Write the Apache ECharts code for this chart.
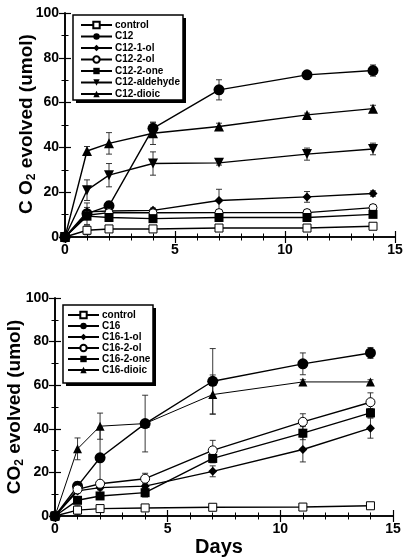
<!DOCTYPE html>
<html><head><meta charset="utf-8">
<script src="https://cdn.jsdelivr.net/npm/echarts@6/dist/echarts.min.js"></script>
<style>html,body{margin:0;padding:0;background:#fff}#c{width:407px;height:558px}</style>
</head><body><div id="c"></div>
<script>
const days = [0, 1, 2, 4, 7, 11, 14];
const xTicks = [0, 5, 10, 15];
const yTicks = [0, 20, 40, 60, 80, 100];

// Top panel (C12)
const topNames = ['control', 'C12', 'C12-1-ol', 'C12-2-ol', 'C12-2-one', 'C12-aldehyde', 'C12-dioic'];
const topControl = [0, 3.0, 3.6, 3.6, 4.0, 4.0, 4.8];
const topControlErr = [0, 2, 0.8, 0.8, 1, 1, 1.2];
const topC12 = [0, 10.4, 13.9, 48.5, 65.7, 72.4, 74.3];
const topC12Err = [0, 4.8, 2, 2.5, 4.5, 1, 2.5];
const topC12_1ol = [0, 11.2, 11.6, 11.9, 16.3, 17.9, 19.4];
const topC12_1olErr = [0, 2, 1, 1, 5, 2.4, 1.2];
const topC12_2ol = [0, 9.7, 10.9, 10.8, 10.9, 10.9, 13.1];
const topC12_2olErr = [0, 1, 1, 1, 1, 1, 1];
const topC12_2one = [0, 9.3, 8.7, 8.2, 8.7, 8.7, 10.1];
const topC12_2oneErr = [0, 1, 0.5, 0.5, 0.5, 0.5, 0.5];
const topC12ald = [0, 20.9, 27.6, 32.8, 33.1, 37.0, 39.3];
const topC12aldErr = [0, 4.6, 5.2, 5.2, 1, 2.7, 2.6];
const topC12dioic = [0, 38.4, 41.8, 46.3, 49.3, 54.5, 57.3];
const topC12dioicErr = [0, 2, 4.8, 5, 1.5, 0.8, 1.5];

// Bottom panel (C16)
const botNames = ['control', 'C16', 'C16-1-ol', 'C16-2-ol', 'C16-2-one', 'C16-dioic'];
const botControl = [0, 2.7, 3.4, 3.7, 4.0, 4.1, 4.7];
const botControlErr = [0, 2, 1, 1, 1.2, 1.5, 1];
const botC16 = [0, 13.7, 26.7, 42.4, 61.8, 69.8, 74.8];
const botC16Err = [0, 2, 14, 13, 15, 5, 2.5];
const botC16_1ol = [0, 11.5, 13.0, 13.7, 20.5, 30.5, 40.3];
const botC16_1olErr = [0, 1, 1, 1, 2.5, 5.7, 4.6];
const botC16_2ol = [0, 12.2, 14.8, 17.1, 30.1, 43.2, 52.2];
const botC16_2olErr = [0, 1, 1, 2.5, 4.6, 3.7, 4.3];
const botC16_2one = [0, 7.2, 9.2, 10.7, 26.4, 38.0, 47.3];
const botC16_2oneErr = [0, 1, 1, 2, 2, 3, 2];
const botC16dioic = [0, 30.8, 41.2, 42.4, 55.7, 61.5, 61.5];
const botC16dioicErr = [0, 5, 6, 1, 9, 1, 1];

const FONT = '"Liberation Sans", Arial, Helvetica, sans-serif';
const topStyles = [
  {symbol: 'rect', size: 8, open: true},
  {symbol: 'circle', size: 11},
  {symbol: 'diamond', size: 9},
  {symbol: 'circle', size: 8, open: true},
  {symbol: 'rect', size: 9},
  {symbol: 'triangle', size: 10, rotate: 180},
  {symbol: 'triangle', size: 10}
];
const botStyles = [
  {symbol: 'rect', size: 8, open: true},
  {symbol: 'circle', size: 11},
  {symbol: 'diamond', size: 9},
  {symbol: 'circle', size: 9, open: true},
  {symbol: 'rect', size: 9},
  {symbol: 'triangle', size: 9, thin: true}
];
const topVals = [topControl, topC12, topC12_1ol, topC12_2ol, topC12_2one, topC12ald, topC12dioic];
const topErrs = [topControlErr, topC12Err, topC12_1olErr, topC12_2olErr, topC12_2oneErr, topC12aldErr, topC12dioicErr];
const botVals = [botControl, botC16, botC16_1ol, botC16_2ol, botC16_2one, botC16dioic];
const botErrs = [botControlErr, botC16Err, botC16_1olErr, botC16_2olErr, botC16_2oneErr, botC16dioicErr];

function errSeries(idx, vals, errs) {
  return {
    type: 'custom', xAxisIndex: idx, yAxisIndex: idx, z: 1, silent: true,
    data: days.map((d, i) => [d, vals[i], errs[i]]),
    renderItem: function (params, api) {
      const x = api.value(0), y = api.value(1), e = api.value(2);
      if (!e) return null;
      const t = api.coord([x, y + e]), b = api.coord([x, y - e]);
      const st = {stroke: '#222', lineWidth: 0.9};
      return {type: 'group', children: [
        {type: 'line', shape: {x1: t[0], y1: t[1], x2: b[0], y2: b[1]}, style: st},
        {type: 'line', shape: {x1: t[0] - 3, y1: t[1], x2: t[0] + 3, y2: t[1]}, style: st},
        {type: 'line', shape: {x1: b[0] - 3, y1: b[1], x2: b[0] + 3, y2: b[1]}, style: st}
      ]};
    }
  };
}
function lineSeries(idx, name, vals, st) {
  return {
    type: 'line', name: name, xAxisIndex: idx, yAxisIndex: idx, z: 3,
    data: days.map((d, i) => [d, vals[i]]),
    symbol: st.symbol, symbolSize: st.size, symbolRotate: st.rotate || 0,
    showAllSymbol: true,
    lineStyle: {color: '#000', width: st.thin ? 1 : 1.4},
    itemStyle: st.open ? {color: '#fff', borderColor: '#000', borderWidth: 1}
                       : {color: '#000', borderWidth: 0},
    emphasis: {disabled: true}
  };
}
const series = [];
topNames.forEach((n, i) => { series.push(errSeries(0, topVals[i], topErrs[i])); });
botNames.forEach((n, i) => { series.push(errSeries(1, botVals[i], botErrs[i])); });
topNames.forEach((n, i) => { series.push(lineSeries(0, n, topVals[i], topStyles[i])); });
botNames.forEach((n, i) => { series.push(lineSeries(1, n, botVals[i], botStyles[i])); });

const lab = {fontFamily: FONT, fontWeight: 'bold', fontSize: 14, color: '#000'};
function xAx(grid, pos, show) {
  return {type: 'value', gridIndex: grid, position: pos, min: xTicks[0], max: xTicks[xTicks.length - 1], interval: 5,
    axisLine: {show: true, lineStyle: {color: '#000', width: 1.6}},
    axisTick: {show: true, inside: true, length: 6, lineStyle: {color: '#000', width: 1.2}},
    minorTick: {show: true, splitNumber: 5, length: 3.5, lineStyle: {color: '#000', width: 1}},
    splitLine: {show: false},
    axisLabel: Object.assign({show: show, margin: 6}, lab)};
}
function yAx(grid, pos, show) {
  return {type: 'value', gridIndex: grid, position: pos, min: yTicks[0], max: yTicks[yTicks.length - 1], interval: 20,
    axisLine: {show: true, lineStyle: {color: '#000', width: 1.6}},
    axisTick: {show: true, inside: true, length: 6, lineStyle: {color: '#000', width: 1.2}},
    minorTick: {show: true, splitNumber: 2, length: 3.5, lineStyle: {color: '#000', width: 1}},
    splitLine: {show: false},
    axisLabel: Object.assign({show: show, margin: 6}, lab)};
}
function legend(names, left, top, gap) {
  return {data: names, left: left, top: top, orient: 'vertical', padding: 0, z: 6,
    itemWidth: 31, itemHeight: 8, itemGap: gap, selectedMode: false,
    textStyle: {fontFamily: FONT, fontWeight: 'bold', fontSize: 10, lineHeight: 11, color: '#000', padding: [0, 0, 0, -2]}};
}
function legendBox(x, y, w, h) {
  return [
    {type: 'rect', z: 4, shape: {x: x + 3, y: y + 3, width: w, height: h}, style: {fill: '#000'}},
    {type: 'rect', z: 5, shape: {x: x, y: y, width: w, height: h}, style: {fill: '#fff', stroke: '#000', lineWidth: 1.5}}
  ];
}
const titleRich = {
  a: {fontFamily: FONT, fontWeight: 'bold', fontSize: 19, color: '#000', lineHeight: 22},
  s: {fontFamily: FONT, fontWeight: 'bold', fontSize: 12, color: '#000', lineHeight: 22, verticalAlign: 'bottom', padding: [8, 0, 0, 0]}
};
const chart = echarts.init(document.getElementById('c'), null, {renderer: 'canvas'});
chart.setOption({
  animation: false,
  backgroundColor: '#fff',
  grid: [
    {left: 65, top: 13, width: 330, height: 224},
    {left: 55, top: 298, width: 338, height: 218}
  ],
  xAxis: [xAx(0, 'bottom', true), xAx(1, 'bottom', true), xAx(0, 'top', false), xAx(1, 'top', false)],
  yAxis: [yAx(0, 'left', true), yAx(1, 'left', true), yAx(0, 'right', false), yAx(1, 'right', false)],
  legend: [legend(topNames, 80, 19.5, 0.5), legend(botNames, 67, 309.5, 0)],
  graphic: [].concat(
    legendBox(73, 15, 110, 85),
    legendBox(63, 305, 90, 78),
    [
      {type: 'text', x: 27, y: 124, rotation: Math.PI / 2,
        style: {text: '{a|C O}{s|2}{a| evolved (umol)}', rich: titleRich, align: 'center', verticalAlign: 'middle'}},
      {type: 'text', x: 15, y: 407, rotation: Math.PI / 2,
        style: {text: '{a|CO}{s|2}{a| evolved (umol)}', rich: titleRich, align: 'center', verticalAlign: 'middle'}},
      {type: 'text', x: 219, y: 547,
        style: {text: 'Days', fontFamily: FONT, fontWeight: 'bold', fontSize: 20, fill: '#000', align: 'center', verticalAlign: 'middle'}}
    ]
  ),
  series: series
});
</script></body></html>
